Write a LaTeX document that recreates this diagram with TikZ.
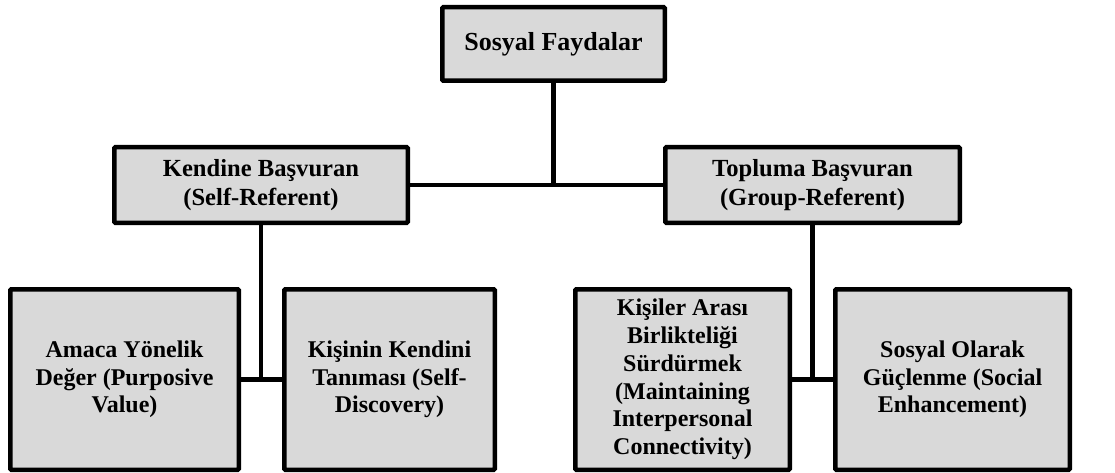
\documentclass[tikz,border=0pt]{standalone}
\usepackage{fontspec}
\setmainfont{Liberation Serif}[BoldFont={Liberation Serif Bold}]
\begin{document}
\begin{tikzpicture}[x=1pt,y=-1pt,
  box/.style={draw=black,line width=4.5pt,fill=boxgray,rounded corners=1pt,
    inner sep=2pt,align=center,font=\fontsize{24}{27.7}\selectfont\bfseries},
  link/.style={draw=black,line width=4.5pt}]
\definecolor{boxgray}{HTML}{D9D9D9}
\useasboundingbox (0,0) rectangle (1115,473);
% root
\node[box,minimum width=222.5pt,minimum height=73.5pt,
  font=\fontsize{26}{30}\selectfont\bfseries] (root) at (553.5,44) {Sosyal Faydalar};
% second level
\node[box,minimum width=293.5pt,minimum height=75.5pt,
  font=\fontsize{24.6}{28.3}\selectfont\bfseries] (self) at (261,185)
  {Kendine Başvuran\\(Self-Referent)};
\node[box,minimum width=294.5pt,minimum height=75.5pt,
  font=\fontsize{24.6}{28.3}\selectfont\bfseries] (group) at (812.5,185)
  {Topluma Başvuran\\(Group-Referent)};
% leaves
\node[box,minimum width=228.5pt,minimum height=180.5pt] (purp) at (124.5,379.5)
  {Amaca Yönelik\\Değer (Purposive\\Value)};
\node[box,minimum width=210.5pt,minimum height=180.5pt] (disc) at (389.5,379.5)
  {Kişinin Kendini\\Tanıması (Self-\\Discovery)};
\node[box,minimum width=214.5pt,minimum height=180.5pt] (conn) at (682.5,379.5)
  {Kişiler Arası\\Birlikteliği\\Sürdürmek\\(Maintaining\\Interpersonal\\Connectivity)};
\node[box,minimum width=234.5pt,minimum height=180.5pt] (enh) at (952.5,379.5)
  {Sosyal Olarak\\Güçlenme (Social\\Enhancement)};
% junctions
\coordinate (j0) at (root.south |- self.east);
\coordinate (j1) at (self.south |- purp.east);
\coordinate (j2) at (group.south |- conn.east);
% connectors
\draw[link] (root.south) -- (j0);
\draw[link] (self.east) -- (group.west);
\draw[link] (self.south) -- (j1);
\draw[link] (purp.east) -- (disc.west);
\draw[link] (group.south) -- (j2);
\draw[link] (conn.east) -- (enh.west);
\end{tikzpicture}
\end{document}
